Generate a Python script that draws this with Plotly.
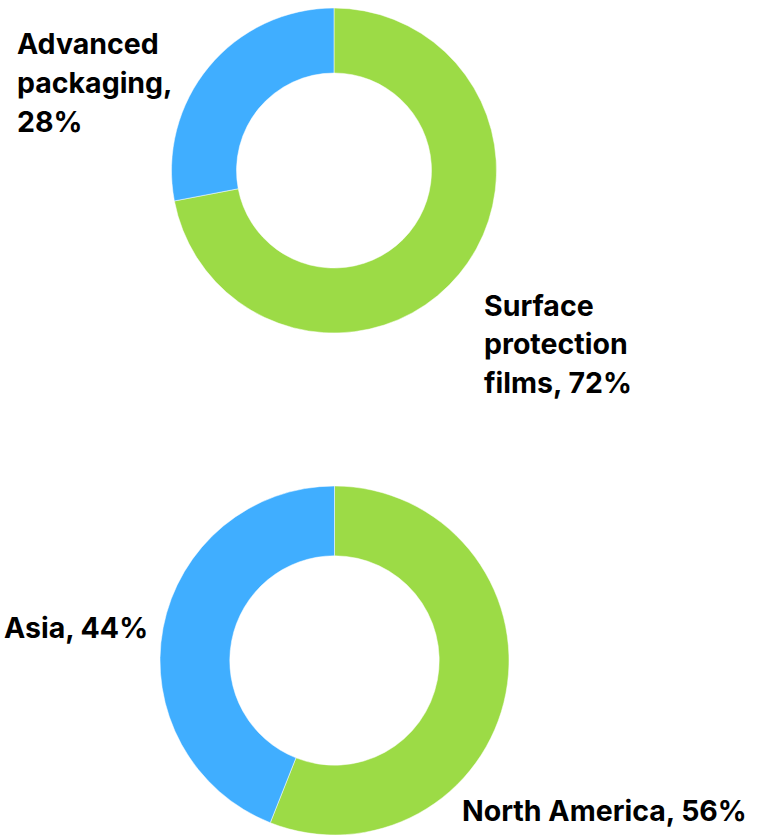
import plotly.graph_objects as go

# Share by application (top donut) and by region (bottom donut)
app_labels = ["Surface protection films", "Advanced packaging"]
app_values = [72, 28]
region_labels = ["North America", "Asia"]
region_values = [56, 44]
slice_colors = ["#9CDB46", "#40AEFF"]

W, H = 757, 839

def px_domain(cx, cy, r):
    """Convert a pixel centre/radius into paper-domain coordinates."""
    return dict(x=[(cx - r) / W, (cx + r) / W],
                y=[(H - (cy + r)) / H, (H - (cy - r)) / H])

fig = go.Figure()
fig.add_trace(go.Pie(
    labels=app_labels, values=app_values, hole=0.6, sort=False,
    direction="clockwise", rotation=0, textinfo="none",
    marker=dict(colors=slice_colors, line=dict(color="white", width=0.5)),
    domain=px_domain(334, 170.5, 162.5), showlegend=False,
))
fig.add_trace(go.Pie(
    labels=region_labels, values=region_values, hole=0.6, sort=False,
    direction="clockwise", rotation=0, textinfo="none",
    marker=dict(colors=slice_colors, line=dict(color="white", width=0.5)),
    domain=px_domain(334.5, 660.5, 174.5), showlegend=False,
))

# Data labels: (label, value, wrapped lines, left x, first line centre y)
label_font = dict(family="Inter", size=28.5, color="#000000")
label_specs = [
    (app_labels[0], app_values[0], ["Surface", "protection", "films, {v}%"], 482, 305),
    (app_labels[1], app_values[1], ["Advanced", "packaging,", "{v}%"], 15, 44),
    (region_labels[0], region_values[0], ["North America, {v}%"], 460, 810),
    (region_labels[1], region_values[1], ["Asia, {v}%"], 2, 627),
]
line_gap = 38.5
for name, val, lines, x0, y0 in label_specs:
    for i, ln in enumerate(lines):
        fig.add_annotation(
            x=x0 / W, y=(H - (y0 + i * line_gap)) / H, xref="paper", yref="paper",
            text="<b>" + ln.format(v=val) + "</b>", showarrow=False,
            xanchor="left", yanchor="middle", font=label_font,
        )

fig.update_layout(
    width=W, height=H, margin=dict(l=0, r=0, t=0, b=0),
    paper_bgcolor="white", plot_bgcolor="white",
)
fig.write_html("out.html")
